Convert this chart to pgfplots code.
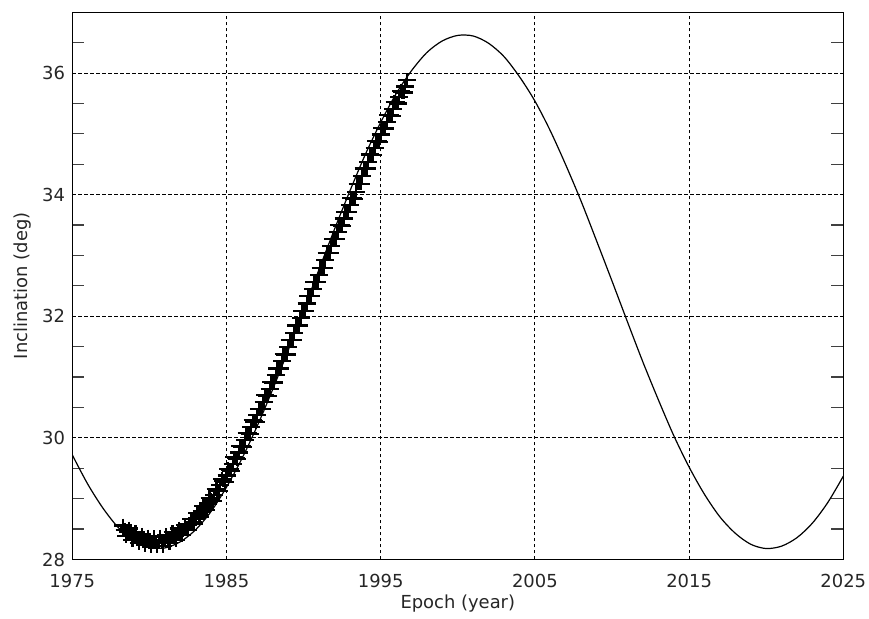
\documentclass[border=0pt]{standalone}
\usepackage{fontspec}
\setmainfont{DejaVu Sans}
\usepackage{pgfplots}
\pgfplotsset{compat=1.18}
\begin{document}
\fontsize{9}{11}\selectfont
\begin{tikzpicture}
\begin{axis}[
  scale only axis, width=385.5bp, height=273.6bp,
  xmin=1975, xmax=2025, ymin=28, ymax=37,
  xtick={1975,1985,1995,2005,2015,2025},
  ytick={28,30,32,34,36},
  minor ytick={28.5,29,29.5,30.5,31,31.5,32.5,33,33.5,34.5,35,35.5,36.5},
  /pgf/number format/.cd, 1000 sep={}, assume math mode=true, /pgfplots/.cd,
  grid=major,
  major grid style={black, line width=0.5bp, dash pattern=on 1.6bp off 1.4bp},
  tick align=inside,
  major tick length=0pt, minor tick length=6bp,
  minor tick style={black!75, line width=0.6bp},
  axis line style={black, line width=0.5bp},
  every tick label/.append style={text=black!85},
  xticklabel style={yshift=-4bp},
  yticklabel style={xshift=-0.5bp},
  xlabel={Epoch (year)}, ylabel={Inclination (deg)},
  xlabel style={at={(axis description cs:0.5,-0.0811)}, anchor=center, text=black!85},
  ylabel style={at={(axis description cs:-0.0648,0.5)}, anchor=center, text=black!85},
]
\addplot[black, line width=0.6bp, smooth] coordinates {
(1975,29.72) (1976,29.24) (1977,28.84) (1978,28.52) (1979,28.31) (1980,28.20)
(1981,28.19) (1982,28.29) (1983,28.49) (1984,28.79) (1985,29.19) (1986,29.66)
(1987,30.20) (1988,30.80) (1989,31.44) (1990,32.10) (1991,32.77) (1992,33.43)
(1993,34.06) (1994,34.66) (1995,35.19) (1996,35.66) (1997,36.04) (1998,36.34)
(1999,36.53) (2000,36.62) (2001,36.61) (2002,36.49) (2003,36.27) (2004,35.94)
(2005,35.54) (2006,35.05) (2007,34.49) (2008,33.89) (2009,33.24) (2010,32.58)
(2011,31.91) (2012,31.25) (2013,30.63) (2014,30.04) (2015,29.52) (2016,29.07)
(2017,28.70) (2018,28.43) (2019,28.25) (2020,28.18) (2021,28.22) (2022,28.36)
(2023,28.60) (2024,28.94) (2025,29.37)
};
\addplot[only marks, black, mark=+, mark size=4.5bp, mark options={line width=1.1bp, yscale=0.75}] coordinates {
(1978.3,28.56) (1978.4,28.49) (1978.5,28.39) (1978.6,28.45) (1978.7,28.51)
(1978.8,28.41) (1978.9,28.32) (1979.0,28.38) (1979.1,28.45) (1979.2,28.36)
(1979.3,28.27) (1979.4,28.34) (1979.5,28.41) (1979.6,28.32) (1979.7,28.24)
(1979.8,28.31) (1979.9,28.38) (1980.0,28.29) (1980.1,28.21) (1980.2,28.29)
(1980.3,28.37) (1980.4,28.29) (1980.5,28.22) (1980.6,28.30) (1980.7,28.38)
(1980.8,28.30) (1980.9,28.22) (1981.0,28.31) (1981.1,28.40) (1981.2,28.33)
(1981.3,28.27) (1981.4,28.36) (1981.5,28.45) (1981.6,28.39) (1981.7,28.32)
(1981.8,28.41) (1981.9,28.51) (1982.0,28.44) (1982.1,28.40) (1982.2,28.48)
(1982.3,28.57) (1982.4,28.53) (1982.5,28.49) (1982.6,28.58) (1982.7,28.66)
(1982.8,28.62) (1982.9,28.59) (1983.0,28.67) (1983.1,28.76) (1983.2,28.73)
(1983.3,28.70) (1983.4,28.79) (1983.5,28.88) (1983.6,28.85) (1983.7,28.82)
(1983.8,28.92) (1983.9,29.01) (1984.0,28.98) (1984.1,28.96) (1984.2,29.06)
(1984.3,29.16) (1984.4,29.14) (1984.5,29.12) (1984.6,29.22) (1984.7,29.32)
(1984.8,29.30) (1984.9,29.28) (1985.0,29.38) (1985.1,29.49) (1985.2,29.48)
(1985.3,29.46) (1985.4,29.57) (1985.5,29.68) (1985.6,29.67) (1985.7,29.65)
(1985.8,29.76) (1985.9,29.87) (1986.0,29.86) (1986.1,29.85) (1986.2,29.97)
(1986.3,30.08) (1986.4,30.08) (1986.5,30.07) (1986.6,30.18) (1986.7,30.29)
(1986.8,30.27) (1986.9,30.26) (1987.0,30.37) (1987.1,30.48) (1987.2,30.48)
(1987.3,30.47) (1987.4,30.59) (1987.5,30.70) (1987.6,30.69) (1987.7,30.69)
(1987.8,30.80) (1987.9,30.92) (1988.0,30.91) (1988.1,30.91) (1988.2,31.03)
(1988.3,31.14) (1988.4,31.14) (1988.5,31.14) (1988.6,31.26) (1988.7,31.38)
(1988.8,31.37) (1988.9,31.37) (1989.0,31.49) (1989.1,31.61) (1989.2,31.61)
(1989.3,31.61) (1989.4,31.73) (1989.5,31.85) (1989.6,31.85) (1989.7,31.85)
(1989.8,31.97) (1989.9,32.09) (1990.0,32.09) (1990.1,32.09) (1990.2,32.21)
(1990.3,32.33) (1990.4,32.33) (1990.5,32.33) (1990.6,32.45) (1990.7,32.57)
(1990.8,32.57) (1990.9,32.56) (1991.0,32.68) (1991.1,32.80) (1991.2,32.80)
(1991.3,32.80) (1991.4,32.92) (1991.5,33.04) (1991.6,33.04) (1991.7,33.04)
(1991.8,33.16) (1991.9,33.27) (1992.0,33.27) (1992.1,33.27) (1992.2,33.39)
(1992.3,33.50) (1992.4,33.50) (1992.5,33.49) (1992.6,33.61) (1992.7,33.72)
(1992.8,33.72) (1992.9,33.72) (1993.0,33.83) (1993.1,33.94) (1993.2,33.94)
(1993.3,33.93) (1993.4,34.05) (1993.5,34.18) (1993.6,34.18) (1993.7,34.18)
(1993.8,34.31) (1993.9,34.43) (1994.0,34.43) (1994.1,34.43) (1994.2,34.54)
(1994.3,34.66) (1994.4,34.65) (1994.5,34.65) (1994.6,34.77) (1994.7,34.88)
(1994.8,34.88) (1994.9,34.87) (1995.0,34.99) (1995.1,35.10) (1995.2,35.10)
(1995.3,35.09) (1995.4,35.20) (1995.5,35.31) (1995.6,35.31) (1995.7,35.30)
(1995.8,35.41) (1995.9,35.53) (1996.0,35.52) (1996.1,35.50) (1996.2,35.61)
(1996.3,35.71) (1996.4,35.69) (1996.5,35.68) (1996.6,35.78) (1996.7,35.89)
};
\end{axis}
\pgfresetboundingbox
\path[use as bounding box] ([xshift=-36.15bp,yshift=-29.75bp]current axis.south west) rectangle ([xshift=12.85bp,yshift=6.15bp]current axis.north east);
\end{tikzpicture}
\end{document}
